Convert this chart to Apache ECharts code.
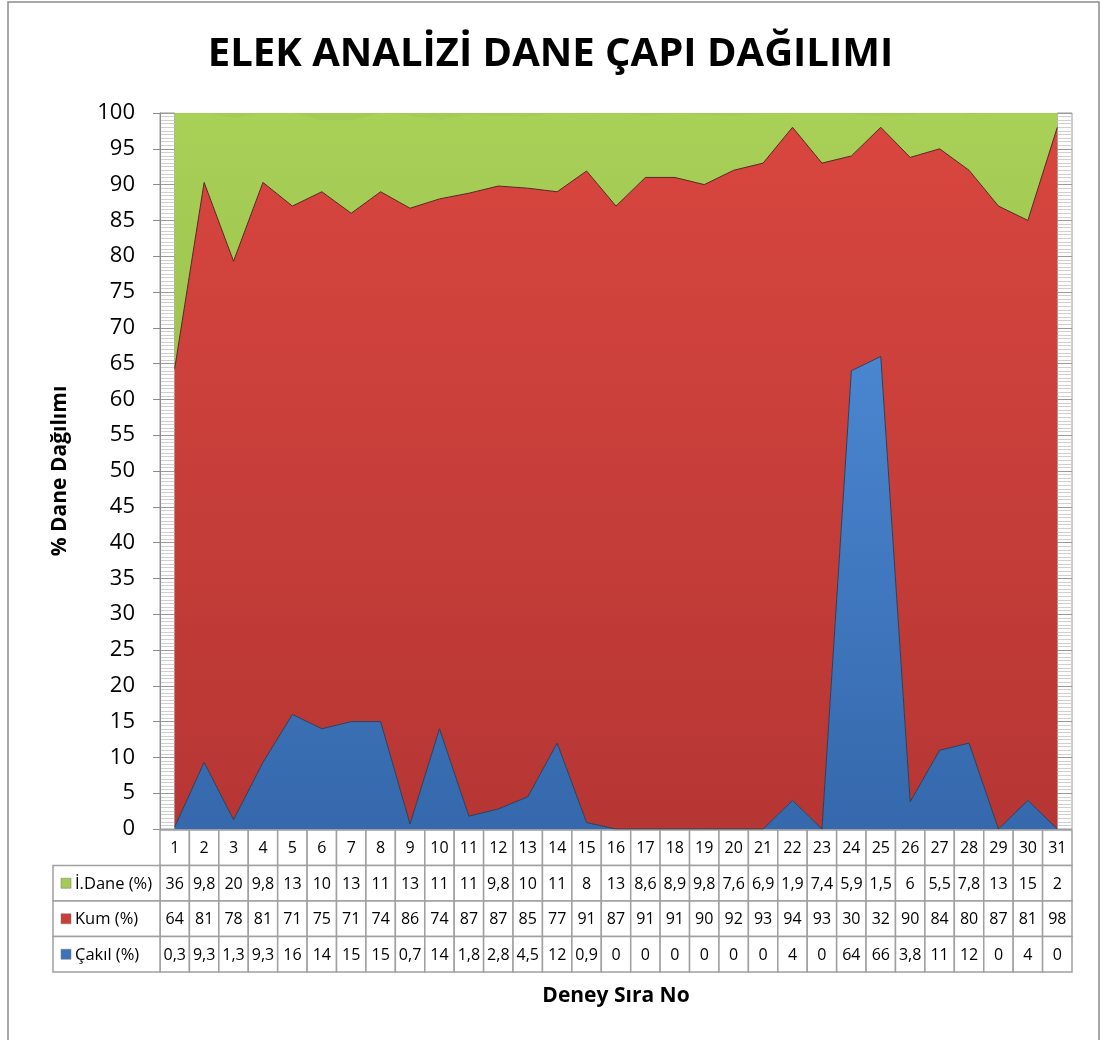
<!DOCTYPE html>
<html>
<head>
<meta charset="utf-8">
<script src="https://cdn.jsdelivr.net/npm/echarts@6/dist/echarts.min.js"></script>
<style>
  html, body { margin: 0; padding: 0; background: #fff; }
  #chart { width: 1101px; height: 1040px; }
</style>
</head>
<body>
<div id="chart"></div>
<script>
  // deney sira no
  var categories = [1, 2, 3, 4, 5, 6, 7, 8, 9, 10, 11, 12, 13, 14, 15, 16, 17, 18, 19, 20, 21, 22, 23, 24, 25, 26, 27, 28, 29, 30, 31];
  var iDane = [36, 9.8, 20, 9.8, 13, 10, 13, 11, 13, 11, 11, 9.8, 10, 11, 8, 13, 8.6, 8.9, 9.8, 7.6, 6.9, 1.9, 7.4, 5.9, 1.5, 6, 5.5, 7.8, 13, 15, 2];
  var kum = [64, 81, 78, 81, 71, 75, 71, 74, 86, 74, 87, 87, 85, 77, 91, 87, 91, 91, 90, 92, 93, 94, 93, 30, 32, 90, 84, 80, 87, 81, 98];
  var cakil = [0.3, 9.3, 1.3, 9.3, 16, 14, 15, 15, 0.7, 14, 1.8, 2.8, 4.5, 12, 0.9, 0, 0, 0, 0, 0, 0, 4, 0, 64, 66, 3.8, 11, 12, 0, 4, 0];
  var rowNames = ['', 'İ.Dane (%)', 'Kum (%)', 'Çakıl (%)'];

  var FONT = '"Open Sans", "Noto Sans", sans-serif';
  var colGreen = '#A3CB55', colRed = '#C93E3B', colBlue = '#3C73B8';
  var rowColors = [null, colGreen, colRed, colBlue];
  var tableRows = [categories, iDane, kum, cakil];

  function fmt(v) {
    return String(v).replace('.', ',');
  }

  var cells = [];
  for (var r = 0; r < tableRows.length; r++) {
    for (var c = 0; c < categories.length; c++) {
      cells.push([c, r]);
    }
  }

  function grad(top, bottom) {
    return new echarts.graphic.LinearGradient(0, 0, 0, 1, [
      { offset: 0, color: top },
      { offset: 1, color: bottom }
    ]);
  }

  var wallY = {
    min: 0, max: 100, interval: 5,
    axisLabel: { show: false },
    axisTick: { show: false },
    axisLine: { show: false },
    splitLine: { show: true, lineStyle: { color: '#9a9a9a', width: 1 } },
    minorTick: { show: false, splitNumber: 10 },
    minorSplitLine: { show: true, lineStyle: { color: '#cfcfcf', width: 1 } }
  };

  var myChart = echarts.init(document.getElementById('chart'));
  var option = {
    backgroundColor: '#fff',
    animation: false,
    title: {
      text: 'ELEK ANALİZİ DANE ÇAPI DAĞILIMI',
      left: 'center',
      top: 30,
      textStyle: { fontFamily: FONT, fontWeight: 'bold', fontSize: 40, color: '#000' }
    },
    graphic: [{
      type: 'rect',
      shape: { x: 8, y: 2, width: 1091, height: 1060 },
      style: { fill: 'none', stroke: '#8c8c8c', lineWidth: 1.5 },
      z: -1
    }],
    grid: [
      // ana alan
      { left: 174.7, width: 882.6, top: 113, bottom: 211, show: true, backgroundColor: colGreen, borderWidth: 0 },
      // veri tablosu
      { left: 160, width: 912, top: 830, height: 142 },
      // sol duvar
      { left: 160, width: 14.7, top: 113, bottom: 211, show: true, backgroundColor: '#fff', borderColor: '#9a9a9a', borderWidth: 1 },
      // sag duvar
      { left: 1057.3, width: 14.7, top: 113, bottom: 211, show: true, backgroundColor: '#fff', borderColor: '#9a9a9a', borderWidth: 1 }
    ],
    xAxis: [
      {
        gridIndex: 0, type: 'category', data: categories, boundaryGap: false,
        axisLabel: { show: false }, axisTick: { show: false },
        axisLine: { show: true, lineStyle: { color: '#8c8c8c' } }
      },
      {
        gridIndex: 1, type: 'category', data: categories, boundaryGap: true,
        axisLabel: { show: false }, axisTick: { show: false }, axisLine: { show: false },
        name: 'Deney Sıra No', nameLocation: 'middle', nameGap: 14,
        nameTextStyle: { fontFamily: FONT, fontWeight: 'bold', fontSize: 21, color: '#000' }
      },
      { gridIndex: 2, type: 'value', min: 0, max: 1, show: false },
      { gridIndex: 3, type: 'value', min: 0, max: 1, show: false }
    ],
    yAxis: [
      { gridIndex: 0, type: 'value', min: 0, max: 100, interval: 5, show: false },
      {
        gridIndex: 1, type: 'category', data: rowNames, inverse: true,
        axisLabel: { show: false }, axisTick: { show: false }, axisLine: { show: false }
      },
      Object.assign({}, wallY, {
        gridIndex: 2,
        axisLine: { show: true, lineStyle: { color: '#8c8c8c' } },
        axisTick: { show: true, length: 7, lineStyle: { color: '#8c8c8c' } },
        axisLabel: { show: true, margin: 25, fontFamily: FONT, fontSize: 22, color: '#000' },
        name: '% Dane Dağılımı', nameLocation: 'middle', nameGap: 89,
        nameTextStyle: { fontFamily: FONT, fontWeight: 'bold', fontSize: 21, color: '#000' }
      }),
      Object.assign({}, wallY, { gridIndex: 3 })
    ],
    series: [
      {
        name: 'Çakıl (%)', type: 'line', stack: 'total', data: cakil,
        xAxisIndex: 0, yAxisIndex: 0, symbol: 'none',
        lineStyle: { color: '#2b3f5c', width: 1 },
        areaStyle: { opacity: 1, color: grad('#4A86D0', '#3568AC') }
      },
      {
        name: 'Kum (%)', type: 'line', stack: 'total', data: kum,
        xAxisIndex: 0, yAxisIndex: 0, symbol: 'none',
        lineStyle: { color: '#5a2424', width: 1 },
        areaStyle: { opacity: 1, color: grad('#D8463F', '#B63634') }
      },
      {
        name: 'İ.Dane (%)', type: 'line', stack: 'total', data: iDane,
        xAxisIndex: 0, yAxisIndex: 0, symbol: 'none',
        lineStyle: { color: '#4a5a2a', width: 0 },
        areaStyle: { opacity: 1, color: grad('#A9D158', '#9CC44F') }
      },
      {
        type: 'custom', xAxisIndex: 1, yAxisIndex: 1, data: cells,
        encode: { x: 0, y: 1 }, silent: true,
        renderItem: function (params, api) {
          var c = api.value(0), r = api.value(1);
          var p = api.coord([c, r]);
          var s = api.size([1, 1]);
          var x0 = p[0] - s[0] / 2, y0 = p[1] - s[1] / 2;
          var kids = [
            { type: 'rect', shape: { x: x0, y: y0, width: s[0], height: s[1] },
              style: { fill: '#fff', stroke: '#a0a0a0', lineWidth: 1.5 } },
            { type: 'text', x: p[0], y: p[1] + 1,
              style: { text: fmt(tableRows[r][c]), align: 'center', verticalAlign: 'middle',
                       font: '16px ' + FONT, fill: '#000' } }
          ];
          if (c === 0 && r > 0) {
            kids.push(
              { type: 'rect', shape: { x: 53, y: y0, width: x0 - 53, height: s[1] },
                style: { fill: '#fff', stroke: '#a0a0a0', lineWidth: 1.5 } },
              { type: 'rect', shape: { x: 61, y: p[1] - 5, width: 10, height: 10 },
                style: { fill: rowColors[r], stroke: '#777', lineWidth: 0.5 } },
              { type: 'text', x: 75, y: p[1] + 1,
                style: { text: rowNames[r], align: 'left', verticalAlign: 'middle',
                         font: '16.5px ' + FONT, fill: '#000' } }
            );
          }
          return { type: 'group', children: kids };
        }
      }
    ]
  };

  myChart.setOption(option);
</script>
</body>
</html>
